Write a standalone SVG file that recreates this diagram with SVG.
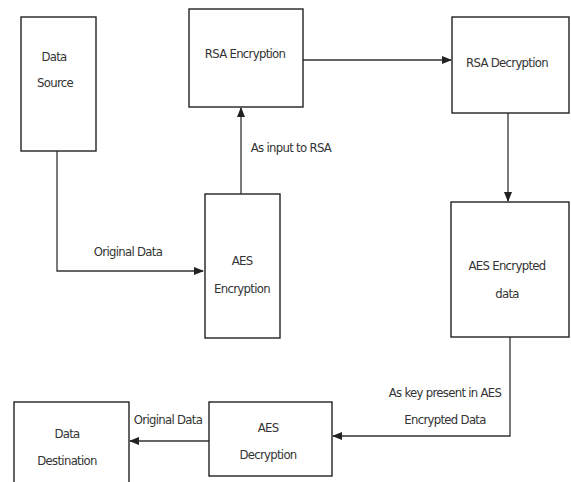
<svg xmlns="http://www.w3.org/2000/svg" width="571" height="482" viewBox="0 0 571 482">
<style>
.box{fill:#fff;stroke:#222;stroke-width:1.4}
.t{font-family:"DejaVu Sans Condensed","DejaVu Sans",sans-serif;font-size:13px;fill:#333;text-anchor:middle;letter-spacing:-0.7px}
.c{fill:none;stroke:#333;stroke-width:1.3}
</style>
<defs>
<marker id="ah" markerWidth="10" markerHeight="8" refX="9" refY="4" orient="auto" markerUnits="userSpaceOnUse">
<path d="M0,0 L10,4 L0,8 Z" fill="#222"/>
</marker>
</defs>
<rect width="571" height="482" fill="#fff"/>
<g id="connectors">
<path class="c" d="M57,151 V271 H203" marker-end="url(#ah)"/>
<path class="c" d="M241,194 V108" marker-end="url(#ah)"/>
<path class="c" d="M303,60 H451" marker-end="url(#ah)"/>
<path class="c" d="M508,113 V201" marker-end="url(#ah)"/>
<path class="c" d="M510,337 V436 H333" marker-end="url(#ah)"/>
<path class="c" d="M209,441 H130" marker-end="url(#ah)"/>
<text class="t" x="128" y="256">Original Data</text>
<text class="t" x="291" y="152">As input to RSA</text>
<text class="t" x="445" y="397">As key present in AES</text>
<text class="t" x="445" y="424">Encrypted Data</text>
<text class="t" x="168" y="424">Original Data</text>
</g>
<g id="data-source">
<rect class="box" x="21" y="17" width="75" height="134"/>
<text class="t" x="54" y="61">Data</text>
<text class="t" x="55" y="87">Source</text>
</g>
<g id="rsa-encryption">
<rect class="box" x="189" y="9" width="114" height="98"/>
<text class="t" x="245" y="58">RSA Encryption</text>
</g>
<g id="rsa-decryption">
<rect class="box" x="452" y="17" width="117" height="96"/>
<text class="t" x="507" y="67">RSA Decryption</text>
</g>
<g id="aes-encryption">
<rect class="box" x="205" y="194" width="75" height="144"/>
<text class="t" x="242" y="265">AES</text>
<text class="t" x="242" y="293">Encryption</text>
</g>
<g id="aes-encrypted-data">
<rect class="box" x="451" y="202" width="118" height="135"/>
<text class="t" x="507" y="270">AES Encrypted</text>
<text class="t" x="507" y="298">data</text>
</g>
<g id="aes-decryption">
<rect class="box" x="209" y="402" width="123" height="74"/>
<text class="t" x="268" y="432">AES</text>
<text class="t" x="268" y="459">Decryption</text>
</g>
<g id="data-destination">
<rect class="box" x="14" y="402" width="115" height="90"/>
<text class="t" x="67" y="438">Data</text>
<text class="t" x="67" y="465">Destination</text>
</g>
</svg>
